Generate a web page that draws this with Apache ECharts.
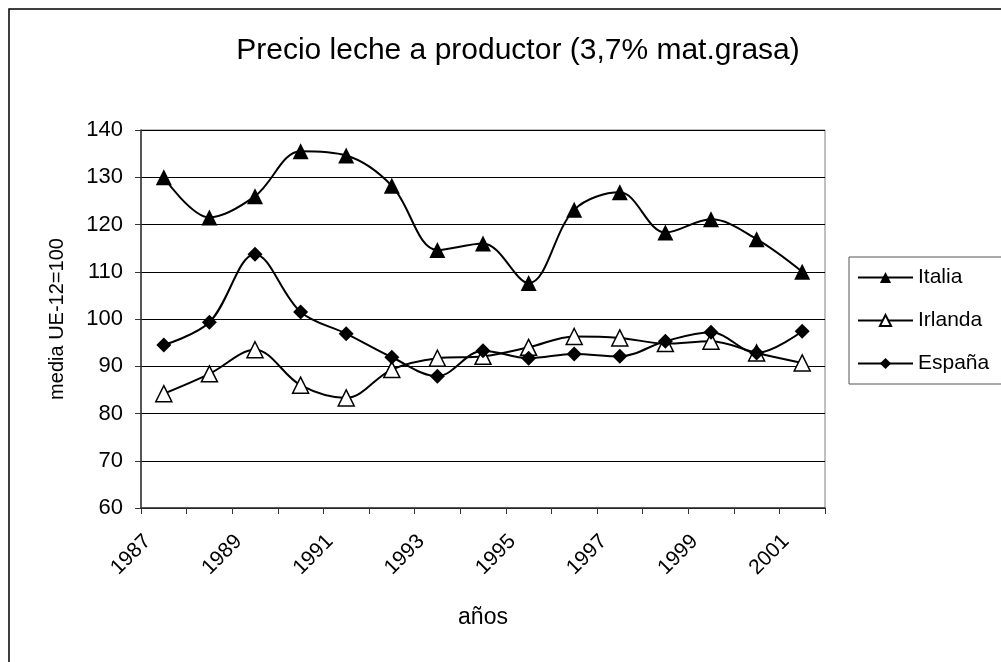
<!DOCTYPE html>
<html>
<head>
<meta charset="utf-8">
<title>Precio leche a productor</title>
<script src="https://cdn.jsdelivr.net/npm/echarts@6/dist/echarts.min.js"></script>
</head>
<body style="margin:0;padding:0;background:#fff;">
<div id="main" style="width:1001px;height:662px;"></div>
<script type="text/javascript">
// años 1987 - 2001
var years = ['1987','1988','1989','1990','1991','1992','1993','1994','1995','1996','1997','1998','1999','2000','2001'];
var italia  = [130, 121.5, 126, 135.5, 134.6, 128.2, 114.6, 116, 107.6, 123.1, 126.8, 118.3, 121.1, 116.9, 110];
var irlanda = [84.2, 88.4, 93.5, 86, 83.3, 89.3, 91.7, 92.1, 94, 96.3, 96, 94.8, 95.3, 92.8, 90.7];
var espana  = [94.5, 99.3, 113.7, 101.5, 96.9, 91.9, 87.9, 93.3, 91.7, 92.6, 92.1, 95.3, 97.2, 92.8, 97.4];
var yTicks = [60, 140, 10]; // min, max, interval

var myChart = echarts.init(document.getElementById('main'));

var font = 'Liberation Sans, Arial, sans-serif';

function serie(name, data, symbol, size, fill) {
    return {
        name: name,
        type: 'line',
        data: data,
        smooth: 0.35,
        symbol: symbol,
        symbolSize: size,
        lineStyle: { color: '#000', width: 2 },
        itemStyle: { color: fill, borderColor: '#000', borderWidth: fill == '#fff' ? 1.5 : 0 },
        emphasis: { disabled: true }
    };
}

var option = {
    animation: false,
    backgroundColor: '#fff',
    textStyle: { fontFamily: font, color: '#000' },
    graphic: [{
        type: 'rect',
        shape: { x: 9, y: 9, width: 1100, height: 800 },
        style: { fill: 'none', stroke: '#000', lineWidth: 1.5 },
        z: -1
    }],
    title: {
        text: 'Precio leche a productor (3,7% mat.grasa)',
        left: 513,
        top: 31,
        textAlign: 'center',
        textStyle: { fontFamily: font, fontSize: 30, fontWeight: 'normal', color: '#000' }
    },
    legend: {
        orient: 'vertical',
        left: 849,
        top: 257,
        padding: [10, 30, 10, 8],
        itemGap: 22,
        itemWidth: 55,
        itemHeight: 14,
        borderColor: '#555',
        borderWidth: 1,
        textStyle: { fontFamily: font, fontSize: 21, color: '#000' },
        data: ['Italia', 'Irlanda', 'España']
    },
    grid: {
        left: 141,
        top: 130,
        right: 176,
        bottom: 154,
        show: true,
        borderColor: '#808080',
        borderWidth: 1
    },
    xAxis: {
        type: 'category',
        data: years,
        boundaryGap: true,
        name: 'años',
        nameLocation: 'middle',
        nameGap: 98,
        nameTextStyle: { fontFamily: font, fontSize: 23, color: '#000' },
        axisLine: { lineStyle: { color: '#333', width: 1.5 } },
        axisTick: { show: true, length: 6, interval: 0, lineStyle: { color: '#333' } },
        axisLabel: {
            interval: 1,
            rotate: 45,
            margin: 14,
            padding: [0, 23, 0, 0],
            fontFamily: font,
            fontSize: 21,
            color: '#000'
        },
        splitLine: { show: false }
    },
    yAxis: {
        type: 'value',
        min: yTicks[0],
        max: yTicks[1],
        interval: yTicks[2],
        name: 'media UE-12=100',
        nameLocation: 'middle',
        nameGap: 74,
        nameRotate: 90,
        nameTextStyle: { fontFamily: font, fontSize: 20, color: '#000' },
        axisLine: { show: true, lineStyle: { color: '#333', width: 1.5 } },
        axisTick: { show: true, length: 6, lineStyle: { color: '#333' } },
        axisLabel: { margin: 18, fontFamily: font, fontSize: 22, color: '#000' },
        splitLine: { lineStyle: { color: '#000', width: 1 } }
    },
    series: [
        serie('Italia', italia, 'triangle', 16, '#000'),
        serie('Irlanda', irlanda, 'triangle', 16, '#fff'),
        serie('España', espana, 'diamond', 15, '#000')
    ]
};
myChart.setOption(option);
</script>
</body>
</html>
